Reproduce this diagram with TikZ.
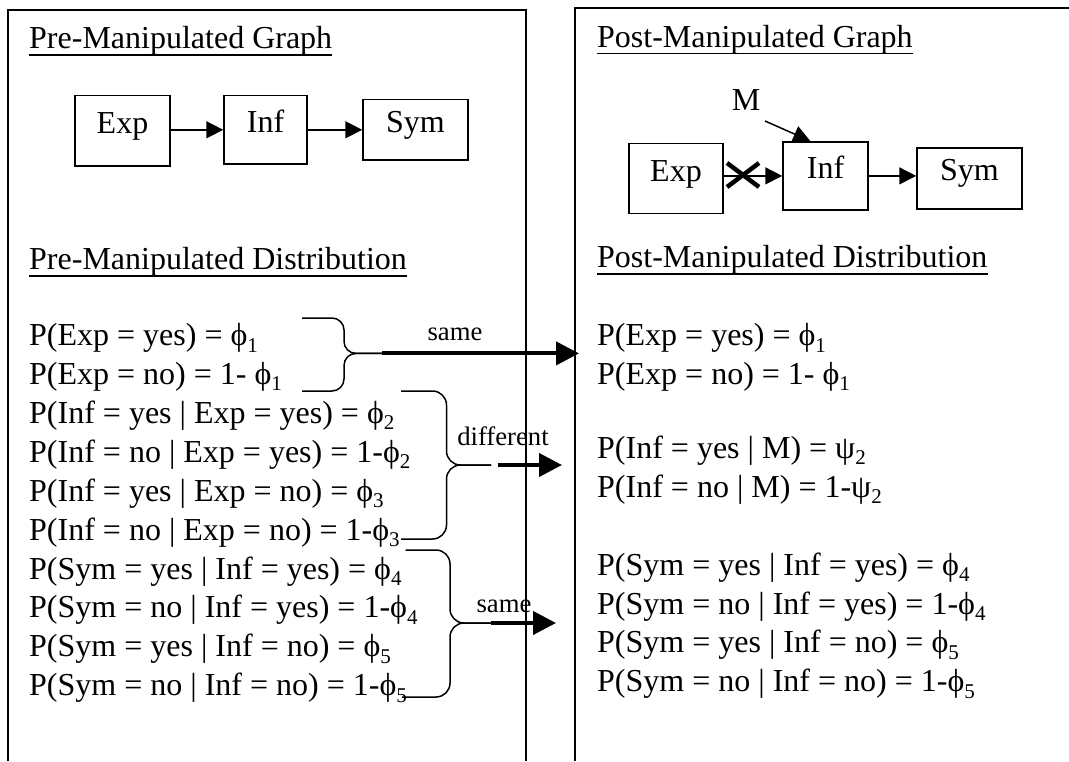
\documentclass[tikz,border=0pt]{standalone}
\usepackage{fontspec}
\setmainfont{Liberation Serif}
\usetikzlibrary{arrows.meta,calc}
% lowered small index used after phi / psi
\newcommand\lowidx[1]{\raisebox{-0.2em}{\fontsize{21}{21}\selectfont #1}}
\newcommand\ph[1]{ϕ\lowidx{#1}}
\newcommand\ps[1]{ψ\lowidx{#1}}

\begin{document}
\begin{tikzpicture}[x=1pt,y=-1pt,
  txt/.style={anchor=base west, inner sep=0pt, font=\fontsize{32}{37}\selectfont},
  note/.style={anchor=base, inner sep=0pt, font=\fontsize{26.7}{30}\selectfont},
  gbox/.style={draw, line width=1.5pt, inner sep=0pt, font=\fontsize{32}{37}\selectfont,
               text height=0.68em, text depth=0.2em},
  panel/.style={line width=2pt},
  garrow/.style={line width=1.5pt, -{Triangle[length=17pt,width=17pt]}},
  bigarrow/.style={line width=4pt, -{Triangle[length=23pt,width=23pt]}},
  bline/.style={line width=1.5pt, rounded corners=14pt},
  uline/.style={line width=1.6pt},
  cross/.style={line width=4.5pt},
]
\useasboundingbox (0,0) rectangle (1069,761);

% two open-bottomed panels
\draw[panel] (8,761) -- (8,9.7) -- (526,9.7) -- (526,761);
\draw[panel] (575,761) -- (575,7.5) -- (1069,7.5);

% headings
\node[txt] (preG)  at (29,48.5)  {Pre-Manipulated Graph};
\node[txt] (postG) at (597,47)   {Post-Manipulated Graph};
\node[txt] (preD)  at (29,269.4) {Pre-Manipulated Distribution};
\node[txt] (postD) at (597,267.5) {Post-Manipulated Distribution};
\foreach \h in {preG,postG,preD,postD}
  \draw[uline] ([yshift=-6.5pt]\h.base west) -- ([yshift=-6.5pt]\h.base east);

% graph before manipulation
\node[gbox, minimum width=95pt,  minimum height=70.4pt] (expL) at (122.5,130.8) {Exp};
\node[gbox, minimum width=83pt,  minimum height=68.4pt] (infL) at (265.5,129.8) {Inf};
\node[gbox, minimum width=105pt, minimum height=60.5pt] (symL) at (415.5,129.8) {Sym};
\draw[garrow] (expL.east |- infL.west) -- (infL.west);
\draw[garrow] (infL.east) -- (symL.west |- infL.east);

% graph after manipulation
\node[gbox, minimum width=94pt,  minimum height=70pt]   (expR) at (676,178.6)   {Exp};
\node[gbox, minimum width=85pt,  minimum height=68.3pt] (infR) at (825.5,175.9) {Inf};
\node[gbox, minimum width=105pt, minimum height=60.7pt] (symR) at (969.5,178.4) {Sym};
\node[anchor=base, inner sep=0pt, font=\fontsize{32}{37}\selectfont] (M) at (746,110.7) {M};
\coordinate (mfrom) at (765,121);
\draw[garrow] (mfrom) -- ($(infR.north west)+(28,0)$);
\draw[garrow] (expR.east |- infR.west) -- (infR.west);
\draw[garrow] (infR.east) -- (symR.west |- infR.east);
\coordinate (cut) at (743,175);
\draw[cross] ($(cut)+(-16,-12)$) -- ($(cut)+(16,12)$)
             ($(cut)+(-16,12)$) -- ($(cut)+(16,-12)$);

% distribution before manipulation
\node[txt] (L1)  at (29,345.6) {P(Exp = yes) = \ph1};
\node[txt] (L2)  at (29,384.5) {P(Exp = no) = 1- \ph1};
\node[txt] (L3)  at (29,423.4) {P(Inf = yes | Exp = yes) = \ph2};
\node[txt] (L4)  at (29,462.3) {P(Inf = no | Exp = yes) = 1-\ph2};
\node[txt] (L5)  at (29,501.2) {P(Inf = yes | Exp = no) = \ph3};
\node[txt] (L6)  at (29,540.1) {P(Inf = no | Exp = no) = 1-\ph3};
\node[txt] (L7)  at (29,579)   {P(Sym = yes | Inf = yes) = \ph4};
\node[txt] (L8)  at (29,617.9) {P(Sym = no | Inf = yes) = 1-\ph4};
\node[txt] (L9)  at (29,656.8) {P(Sym = yes | Inf = no) = \ph5};
\node[txt] (L10) at (29,695.7) {P(Sym = no | Inf = no) = 1-\ph5};

% distribution after manipulation
\node[txt] (R1)  at (597,345.6) {P(Exp = yes) = \ph1};
\node[txt] (R2)  at (597,384.5) {P(Exp = no) = 1- \ph1};
\node[txt] (R4)  at (597,458.4) {P(Inf = yes | M) = \ps2};
\node[txt] (R5)  at (597,497.3) {P(Inf = no | M) = 1-\ps2};
\node[txt] (R7)  at (597,575.1) {P(Sym = yes | Inf = yes) = \ph4};
\node[txt] (R8)  at (597,614)   {P(Sym = no | Inf = yes) = 1-\ph4};
\node[txt] (R9)  at (597,652.9) {P(Sym = yes | Inf = no) = \ph5};
\node[txt] (R10) at (597,691.8) {P(Sym = no | Inf = no) = 1-\ph5};

% braces grouping the factors
\coordinate (tipA) at (382,353.4);
\coordinate (tipB) at (491,465);
\coordinate (tipC) at (491,623);
\draw[bline, rounded corners=12pt] (302,318) -- (344,318) -- (344,353.4) -- (tipA);
\draw[bline, rounded corners=12pt] (tipA) -- (344,353.4) -- (344,391) -- (302,391);
\draw[bline] (401,391) -- (446.5,391) -- (446.5,465) -- (tipB);
\draw[bline] (tipB) -- (446.5,465) -- (446.5,539) -- (401,539);
\draw[bline] (405.6,550) -- (450,550) -- (450,623) -- (tipC);
\draw[bline] (tipC) -- (450,623) -- (450,697) -- (402,697);

% arrows between the two distributions
\coordinate (endA) at (579,353.4);
\coordinate (startB) at (498,465);
\coordinate (endB) at (562,465);
\coordinate (endC) at (556,623);
\draw[bigarrow] (tipA) -- (endA);
\draw[bigarrow] (startB) -- (endB);
\draw[bigarrow] (tipC) -- (endC);
\node[note] (sameA) at (455,340)   {same};
\node[note] (diffB) at (503,445.6) {different};
\node[note] (sameC) at (504,612.6) {same};
\end{tikzpicture}
\end{document}
